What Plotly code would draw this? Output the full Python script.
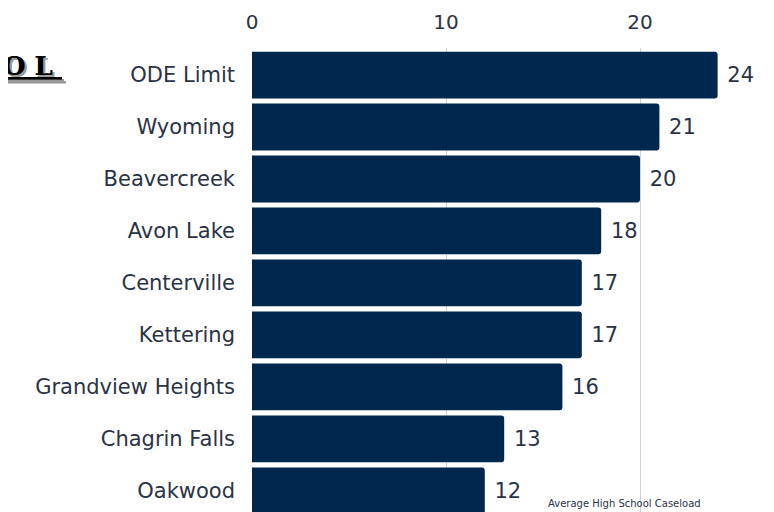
import plotly.graph_objects as go

categories = ["ODE Limit", "Wyoming", "Beavercreek", "Avon Lake", "Centerville",
              "Kettering", "Grandview Heights", "Chagrin Falls", "Oakwood"]
values = [24, 21, 20, 18, 17, 17, 16, 13, 12]
tick_vals = [0, 10, 20]
tick_text = ["0", "10", "20"]

txt = "#2a3345"
L, T, W, H = 244, 40, 530, 472


def px(x):
    return (x - 8 - L) / W


def py(y):
    return 1 - (y - 8 - T) / H


fig = go.Figure(go.Bar(
    x=values, y=categories, orientation="h",
    marker=dict(color="#00284f", line=dict(width=0)),
    width=0.9,
    text=[" " + str(v) for v in values], textposition="outside",
    textfont=dict(size=21, color=txt), cliponaxis=False,
))

fig.update_layout(
    width=774, height=512,
    margin=dict(l=L, r=0, t=T, b=0),
    paper_bgcolor="white", plot_bgcolor="white",
    font=dict(family="DejaVu Sans", color=txt),
    barcornerradius=3,
    showlegend=False,
    xaxis=dict(side="top", range=[0, W / 19.4], tickvals=tick_vals, ticktext=tick_text,
               tickfont=dict(size=20, color=txt), showgrid=True, gridcolor="#cfcfd4",
               gridwidth=1, zeroline=False, showline=False, ticklabelstandoff=14),
    yaxis=dict(categoryorder="array", categoryarray=categories,
               range=[8.56, -0.52], tickfont=dict(size=21, color=txt),
               showgrid=False, zeroline=False, showline=False, ticklabelstandoff=16),
    annotations=[
        dict(text="<b>S C H O O L&nbsp;</b>", xref="paper", yref="paper", x=px(64),
             y=py(66), xanchor="right", yanchor="middle", showarrow=False,
             font=dict(family="DejaVu Serif", size=26, color="#000000",
                       lineposition="under", shadow="2px 2px 0px #9a9a9a")),
        dict(text="Average High School Caseload", xref="paper", yref="paper",
             x=px(624), y=py(503), xanchor="center", yanchor="middle",
             showarrow=False, font=dict(size=10, color=txt)),
    ],
)

fig.write_html("out.html")
